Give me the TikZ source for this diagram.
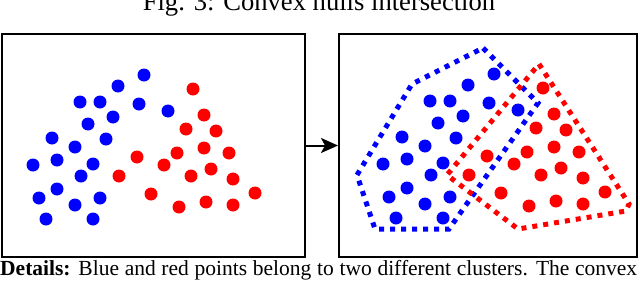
\documentclass[tikz,border=0pt]{standalone}
\usepackage{fontspec}
\setmainfont{Liberation Serif}
\usetikzlibrary{arrows.meta}
\begin{document}
\begin{tikzpicture}[x=1pt,y=-1pt,
  panel/.style={draw=black,line width=2pt,minimum width=303pt,minimum height=223pt,inner sep=0pt},
  bdot/.style={fill={rgb,255:red,0;green,0;blue,255}},
  rdot/.style={fill={rgb,255:red,255;green,0;blue,0}},
  hullb/.style={draw={rgb,255:red,0;green,0;blue,255},line width=5pt,dash pattern=on 5pt off 6pt},
  hullr/.style={draw={rgb,255:red,255;green,0;blue,0},line width=5pt,dash pattern=on 5pt off 6pt},
  conn/.style={draw=black,line width=2pt,-{Stealth[length=17pt,width=15pt,inset=4pt]}}]
\useasboundingbox (0,0) rectangle (640,284);
% title (cut off)
\node[anchor=base,inner sep=0pt,font=\fontsize{26.6}{30}\selectfont] (title) at (319,10) {Fig. 3: Convex hulls intersection};
% panels
\node[panel] (leftbox) at (153,145.5) {};
\node[panel,minimum width=298pt] (rightbox) at (488,145.5) {};
\draw[conn] (leftbox.east) -- (rightbox.west);
% hulls
\draw[hullb] (483,48) -- (538,103) -- (449,229) -- (375,229) -- (357,175) -- (412,84) -- cycle;
\draw[hullr] (539,64) -- (629,204) -- (626,211) -- (518,229) -- (447,175) -- cycle;
% points
\foreach \dx/\dy in {0/0,350/-1}{
  \foreach \x/\y in {144/75,118/86,80/102,100/102,139/104,168/111,113/117,88/124,52/138,106/139,75/147,33/165,57/160,93/164,81/176,57/189,39/198,100/198,75/205,46/219,93/219}
    \fill[bdot] (\x+\dx,\y+\dy) circle (6.5pt);
  \foreach \x/\y in {193/89,204/115,186/129,216/131,204/148,137/157,177/153,229/153,164/165,211/169,119/176,191/176,233/179,151/194,255/193,179/207,206/202,233/205}
    \fill[rdot] (\x+\dx,\y+\dy) circle (6.5pt);
}
% bottom text (cut off)
\node[anchor=base west,inner sep=0pt,font=\fontsize{21.5}{25}\selectfont] (details) at (0,275) {\makebox[637pt][s]{\textbf{Details:} Blue and red points belong to two different clusters. The convex}};
\end{tikzpicture}
\end{document}
